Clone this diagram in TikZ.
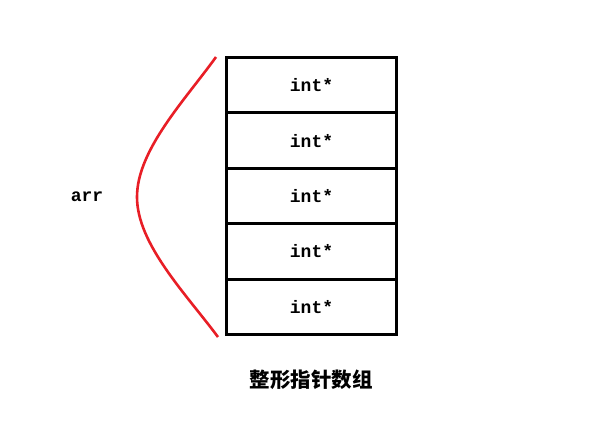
\documentclass[tikz,border=0pt]{standalone}
\usepackage{fontspec}
\newfontfamily\codefont{Liberation Mono}
\newfontfamily\cjkfont{Noto Sans CJK SC}
\definecolor{curvered}{RGB}{232,30,38}
\tikzset{
  cell/.style={draw=black, line width=3pt, minimum width=170pt, minimum height=55.4pt, inner sep=0pt, anchor=north west,
    font=\codefont\bfseries\fontsize{18}{18}\selectfont},
  brace/.style={draw=curvered, line width=2.6pt},
}
\begin{document}
\begin{tikzpicture}[x=1pt,y=-1pt]
\useasboundingbox (0,0) rectangle (610,436);
\node[cell] (r1) at (225,56) {int*};
\node[cell] (r2) at (225,111.4) {int*};
\node[cell] (r3) at (225,166.8) {int*};
\node[cell] (r4) at (225,222.2) {int*};
\node[cell] (r5) at (225,277.6) {int*};
\node[font=\codefont\bfseries\fontsize{18}{18}\selectfont] (arr) at (87,197) {arr};
\draw[brace] (216,57) .. controls (185,100) and (137,150) .. (137,197)
  .. controls (137,244) and (186,294) .. (218,337);
\node[font=\cjkfont\bfseries\fontsize{20.5}{20.5}\selectfont] (cap) at (311,380) {整形指针数组};
\end{tikzpicture}
\end{document}
